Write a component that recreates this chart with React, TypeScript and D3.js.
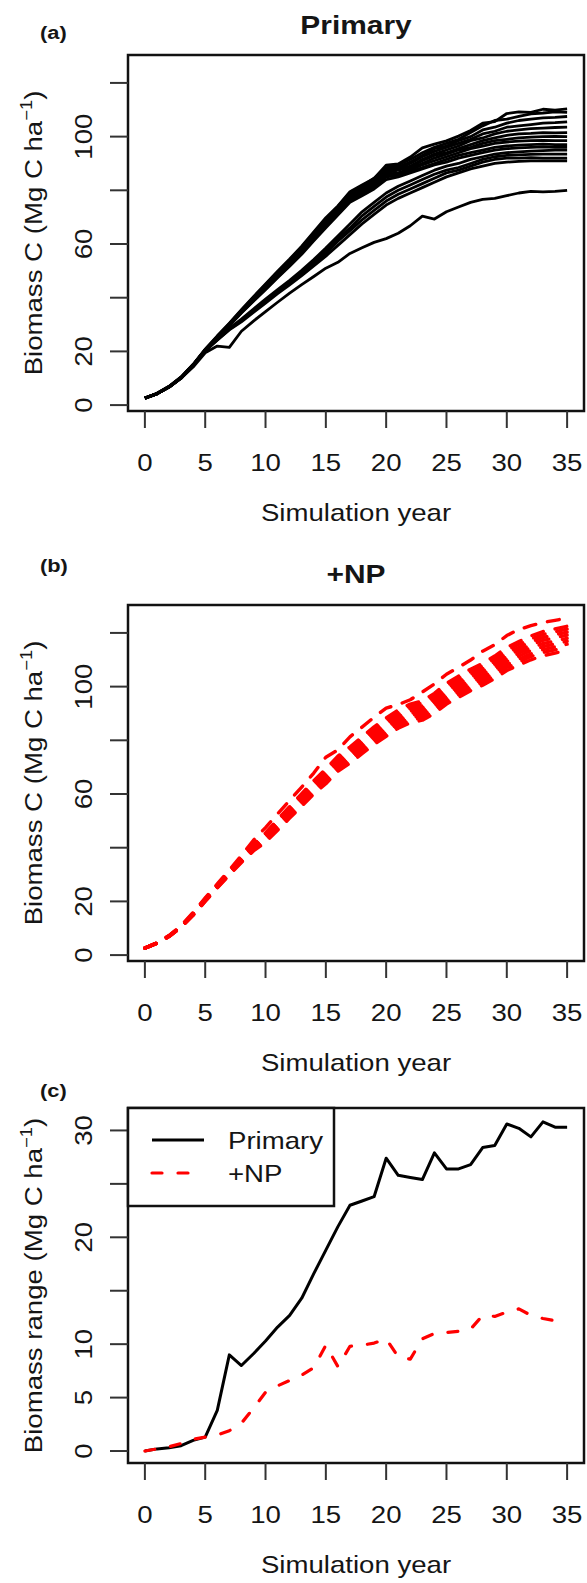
import React from 'react';
import * as d3 from 'd3';

// simulation years on the x axis
const years = d3.range(0, 36);
const xTicks = [0, 5, 10, 15, 20, 25, 30, 35];
const biomassTicks = [0, 20, 40, 60, 80, 100, 120];
const biomassLabels = [0, 20, 60, 100];
const rangeTicks = [0, 5, 10, 15, 20, 25, 30];
const rangeLabels = [0, 5, 10, 20, 30];
const legendLabels = ['Primary', '+NP'];

// (a) Primary runs, biomass C (Mg C ha-1) per year
const primaryRun01 = [2.6, 4.4, 7.0, 10.5, 15.2, 20.8, 25.8, 30.5, 35.5, 40.4, 45.1, 49.9, 54.4, 59.2, 64.5, 69.8, 74.2, 79.5, 82.0, 84.4, 89.4, 89.8, 92.4, 95.8, 97.2, 98.4, 100.2, 102.3, 105.0, 105.6, 108.6, 109.2, 109.0, 110.2, 109.9, 110.3];
const primaryRun02 = [2.6, 4.3, 6.9, 10.4, 15.1, 20.7, 25.5, 30.3, 35.3, 40.1, 44.8, 49.5, 54.0, 58.8, 64.0, 69.3, 74.0, 79.0, 81.5, 84.5, 88.5, 89.5, 91.5, 94.0, 96.0, 97.5, 99.0, 101.5, 104.0, 106.0, 106.5, 107.5, 108.5, 108.8, 109.2, 109.0];
const primaryRun03 = [2.6, 4.3, 6.9, 10.3, 15.0, 20.6, 25.4, 30.2, 35.2, 40.0, 44.6, 49.3, 53.8, 58.5, 63.6, 69.0, 73.6, 78.5, 81.2, 83.8, 88.0, 88.8, 90.5, 93.0, 95.5, 96.5, 98.5, 100.0, 102.5, 103.5, 105.0, 106.0, 106.5, 107.0, 107.2, 107.5];
const primaryRun04 = [2.6, 4.3, 6.8, 10.3, 15.0, 20.6, 25.3, 30.1, 35.1, 39.8, 44.4, 49.0, 53.5, 58.2, 63.2, 68.6, 73.2, 78.5, 80.5, 83.0, 87.5, 88.0, 90.0, 92.5, 94.5, 96.0, 97.5, 99.0, 101.0, 102.0, 103.5, 104.0, 104.5, 105.0, 105.2, 105.5];
const primaryRun05 = [2.6, 4.3, 6.8, 10.2, 14.9, 20.5, 25.2, 30.0, 35.0, 39.6, 44.2, 48.8, 53.2, 57.9, 62.9, 68.2, 72.8, 78.0, 80.5, 83.2, 87.0, 87.8, 89.0, 91.5, 93.5, 95.0, 96.5, 98.5, 99.5, 101.0, 102.0, 102.5, 103.0, 103.2, 103.4, 103.5];
const primaryRun06 = [2.6, 4.3, 6.8, 10.2, 14.9, 20.5, 25.2, 29.9, 34.9, 39.5, 44.0, 48.5, 53.0, 57.6, 62.6, 67.8, 72.5, 77.5, 79.8, 82.5, 86.5, 87.5, 88.5, 91.0, 93.0, 94.0, 95.5, 97.0, 98.5, 99.5, 100.5, 101.0, 101.2, 101.5, 101.4, 101.5];
const primaryRun07 = [2.6, 4.2, 6.8, 10.2, 14.9, 20.5, 25.1, 29.8, 34.8, 39.3, 43.8, 48.3, 52.7, 57.3, 62.3, 67.4, 72.0, 77.0, 79.5, 82.0, 86.0, 86.5, 88.0, 90.0, 92.0, 93.5, 95.0, 96.0, 97.5, 98.5, 99.0, 99.5, 99.8, 100.0, 100.1, 100.0];
const primaryRun08 = [2.6, 4.2, 6.7, 10.1, 14.8, 20.4, 25.0, 29.7, 34.6, 39.1, 43.5, 48.0, 52.4, 57.0, 62.0, 67.0, 71.6, 76.5, 79.0, 81.5, 85.5, 86.0, 87.5, 89.5, 91.0, 92.5, 94.0, 95.5, 96.5, 97.5, 98.0, 98.3, 98.5, 98.6, 98.5, 98.5];
const primaryRun09 = [2.6, 4.2, 6.7, 10.1, 14.8, 20.4, 24.9, 29.6, 34.5, 38.9, 43.2, 47.7, 52.0, 56.6, 61.6, 66.5, 71.2, 76.0, 78.5, 81.0, 85.0, 85.5, 87.0, 88.5, 90.0, 91.5, 93.0, 94.0, 95.0, 96.0, 96.5, 96.8, 97.0, 97.2, 97.0, 97.0];
const primaryRun10 = [2.6, 4.2, 6.7, 10.1, 14.8, 20.4, 24.9, 29.5, 34.3, 38.7, 43.0, 47.4, 51.7, 56.2, 61.2, 66.0, 70.8, 75.5, 78.0, 80.5, 84.0, 85.0, 86.5, 88.0, 89.5, 90.5, 92.0, 93.0, 94.0, 95.0, 95.5, 95.8, 96.0, 96.2, 96.0, 96.0];
const primaryRun11 = [2.6, 4.2, 6.7, 10.1, 14.8, 20.4, 24.6, 28.6, 32.0, 35.8, 39.5, 43.0, 46.5, 50.2, 54.2, 58.5, 63.0, 67.5, 72.0, 75.5, 79.0, 81.5, 83.5, 85.5, 87.5, 89.0, 90.0, 91.5, 92.5, 93.5, 94.0, 94.3, 94.6, 94.8, 95.0, 95.0];
const primaryRun12 = [2.6, 4.2, 6.7, 10.0, 14.7, 20.3, 24.4, 28.4, 31.7, 35.3, 39.0, 42.5, 45.9, 49.5, 53.5, 57.5, 62.0, 66.0, 70.5, 74.0, 77.5, 80.0, 82.0, 84.0, 86.0, 87.5, 88.5, 90.0, 91.5, 92.5, 93.0, 93.2, 93.4, 93.5, 93.5, 93.5];
const primaryRun13 = [2.6, 4.2, 6.7, 10.0, 14.7, 20.3, 24.3, 28.2, 31.4, 34.9, 38.5, 42.0, 45.4, 48.8, 52.6, 56.5, 61.0, 65.0, 69.0, 72.5, 76.0, 78.5, 80.5, 82.5, 84.5, 86.5, 87.5, 89.0, 90.5, 91.5, 92.0, 92.0, 92.2, 92.0, 92.0, 92.0];
const primaryRun14 = [2.6, 4.2, 6.6, 10.0, 14.6, 20.2, 24.2, 28.0, 31.0, 34.5, 38.0, 41.5, 44.8, 48.2, 51.8, 55.5, 59.5, 63.5, 67.5, 71.0, 74.5, 77.0, 79.0, 81.0, 83.0, 85.0, 86.5, 88.0, 89.0, 90.0, 90.5, 90.8, 91.0, 91.0, 91.0, 91.0];
const primaryRun15 = [2.6, 4.2, 6.7, 10.0, 14.2, 19.5, 22.0, 21.5, 27.5, 31.3, 34.8, 38.3, 41.7, 44.9, 47.9, 51.0, 53.2, 56.5, 58.6, 60.6, 62.0, 64.0, 66.8, 70.4, 69.3, 72.0, 73.8, 75.5, 76.6, 77.0, 78.0, 79.0, 79.6, 79.4, 79.6, 80.0];
const primaryRuns = [
  primaryRun01, primaryRun02, primaryRun03, primaryRun04, primaryRun05,
  primaryRun06, primaryRun07, primaryRun08, primaryRun09, primaryRun10,
  primaryRun11, primaryRun12, primaryRun13, primaryRun14, primaryRun15,
];

// (b) +NP runs
const npRun01 = [2.6, 4.6, 7.3, 11.0, 15.9, 21.3, 26.5, 31.7, 37.1, 42.8, 47.5, 52.6, 57.6, 62.6, 67.8, 73.7, 76.4, 81.3, 84.9, 88.6, 92.0, 93.3, 95.1, 98.0, 101.0, 104.6, 107.2, 109.9, 113.2, 115.6, 119.0, 121.3, 122.7, 123.9, 124.7, 125.5];
const npRun02 = [2.6, 4.5, 7.2, 10.8, 15.6, 21.0, 26.1, 31.2, 36.3, 41.4, 45.5, 50.5, 55.3, 60.1, 65.0, 69.3, 74.1, 77.5, 81.3, 85.0, 88.3, 91.3, 93.5, 94.7, 97.5, 101.2, 103.9, 106.5, 108.7, 111.4, 114.6, 116.8, 118.9, 120.5, 121.5, 122.5];
const npRun03 = [2.6, 4.5, 7.2, 10.7, 15.5, 20.9, 26.0, 31.0, 36.1, 41.1, 45.1, 50.0, 54.8, 59.5, 64.4, 68.6, 73.4, 76.8, 80.5, 84.2, 87.5, 90.5, 92.7, 93.8, 96.6, 100.3, 103.0, 105.5, 107.7, 110.4, 113.6, 115.7, 117.8, 119.4, 120.4, 121.4];
const npRun04 = [2.6, 4.5, 7.1, 10.7, 15.4, 20.8, 25.8, 30.9, 35.9, 40.8, 44.6, 49.5, 54.2, 59.0, 63.8, 67.9, 72.7, 76.0, 79.7, 83.4, 86.6, 89.6, 91.8, 92.9, 95.6, 99.3, 101.9, 104.5, 106.7, 109.3, 112.5, 114.6, 116.7, 118.3, 119.3, 120.3];
const npRun05 = [2.6, 4.5, 7.1, 10.6, 15.3, 20.6, 25.7, 30.7, 35.6, 40.4, 44.2, 49.0, 53.7, 58.4, 63.2, 67.3, 72.0, 75.3, 79.0, 82.6, 85.8, 88.8, 90.9, 92.0, 94.7, 98.4, 101.0, 103.5, 105.7, 108.3, 111.4, 113.5, 115.6, 117.2, 118.2, 119.2];
const npRun06 = [2.6, 4.4, 7.0, 10.5, 15.2, 20.5, 25.6, 30.5, 35.4, 40.1, 43.8, 48.5, 53.2, 57.8, 62.5, 66.6, 71.3, 74.5, 78.2, 81.8, 84.9, 87.9, 90.0, 91.1, 93.8, 97.4, 100.0, 102.5, 104.6, 107.2, 110.3, 112.4, 114.5, 116.0, 117.0, 118.0];
const npRun07 = [2.6, 4.4, 7.0, 10.5, 15.1, 20.4, 25.4, 30.3, 35.2, 39.8, 43.3, 48.0, 52.6, 57.3, 61.9, 65.9, 70.6, 73.8, 77.4, 81.0, 84.1, 87.1, 89.2, 90.2, 92.9, 96.4, 99.0, 101.5, 103.6, 106.2, 109.3, 111.3, 113.4, 114.9, 115.9, 116.9];
const npRun08 = [2.6, 4.4, 7.0, 10.4, 15.0, 20.3, 25.3, 30.2, 35.0, 39.5, 42.9, 47.5, 52.1, 56.7, 61.3, 65.2, 69.9, 73.0, 76.6, 80.1, 83.2, 86.2, 88.3, 89.3, 91.9, 95.4, 98.0, 100.5, 102.6, 105.1, 108.2, 110.2, 112.2, 113.8, 114.8, 115.8];
const npRun09 = [2.6, 4.4, 6.9, 10.4, 14.9, 20.1, 25.1, 30.0, 34.7, 39.1, 42.5, 47.0, 51.6, 56.1, 60.7, 64.5, 69.2, 72.3, 75.8, 79.4, 82.4, 85.4, 87.4, 88.4, 91.0, 94.5, 97.0, 99.5, 101.6, 104.1, 107.1, 109.1, 111.2, 112.7, 113.7, 114.7];
const npRun10 = [2.6, 4.4, 6.9, 10.3, 14.8, 20.0, 25.0, 29.8, 34.5, 38.8, 42.0, 46.5, 51.0, 55.5, 60.0, 63.8, 68.5, 71.5, 75.0, 78.5, 81.5, 84.5, 86.5, 87.5, 90.0, 93.5, 96.0, 98.5, 100.5, 103.0, 106.0, 108.0, 110.0, 111.5, 112.5, 113.5];
const npRuns = [npRun01, npRun02, npRun03, npRun04, npRun05, npRun06, npRun07, npRun08, npRun09, npRun10];

// (c) biomass range across runs
const rangePrimary = [0, 0.2, 0.3, 0.5, 1.0, 1.3, 3.8, 9.0, 8.0, 9.1, 10.3, 11.6, 12.7, 14.3, 16.6, 18.8, 21.0, 23.0, 23.4, 23.8, 27.4, 25.8, 25.6, 25.4, 27.9, 26.4, 26.4, 26.8, 28.4, 28.6, 30.6, 30.2, 29.4, 30.8, 30.3, 30.3];
const rangeNP = [0, 0.2, 0.4, 0.7, 1.1, 1.3, 1.5, 1.9, 2.6, 4.0, 5.5, 6.1, 6.6, 7.1, 7.8, 9.9, 7.9, 9.8, 9.9, 10.1, 10.5, 8.8, 8.6, 10.5, 11.0, 11.1, 11.2, 11.4, 12.7, 12.6, 13.0, 13.3, 12.7, 12.4, 12.2, 12.0];

const W = 587;
const H = 1583;
const FONT = '"Liberation Sans", Arial, Helvetica, sans-serif';
const STRETCH = 1.15; // glyphs in the source are a bit wider than Arial

const x = d3.scaleLinear().domain([-1.4, 36.4]).range([128, 584]);

const Label = ({ x, y, size, bold = false, anchor = 'middle', rotate = 0, children }: any) => (
  <text
    transform={`translate(${x},${y}) rotate(${rotate}) scale(${STRETCH},1)`}
    fontSize={size}
    fontWeight={bold ? 'bold' : 'normal'}
    textAnchor={anchor}
    fontFamily={FONT}
    fill="#151515"
  >
    {children}
  </text>
);

const Frame = ({ y, top, bottom, ticks, labels, yTitle }: any) => {
  const midY = (top + bottom) / 2;
  return (
    <g>
      <rect x={128} y={top} width={456} height={bottom - top} fill="none" stroke="#111" strokeWidth={2.5} />
      {ticks.map((t: number) => (
        <line key={'y' + t} x1={110} x2={128} y1={y(t)} y2={y(t)} stroke="#333" strokeWidth={2} />
      ))}
      {labels.map((t: number) => (
        <Label key={'yl' + t} x={92} y={y(t)} size={24} rotate={-90}>{t}</Label>
      ))}
      {xTicks.map((t) => (
        <line key={'x' + t} x1={x(t)} x2={x(t)} y1={bottom} y2={bottom + 17} stroke="#333" strokeWidth={2} />
      ))}
      {xTicks.map((t) => (
        <Label key={'xl' + t} x={x(t)} y={bottom + 60} size={24}>{t}</Label>
      ))}
      <Label x={356} y={bottom + 110} size={24}>Simulation year</Label>
      <Label x={41.5} y={midY} size={24} rotate={-90}>
        {yTitle}
        <tspan dy={-10} fontSize={16}>−1</tspan>
        <tspan dy={10}>)</tspan>
      </Label>
    </g>
  );
};

const App = () => {
  const ya = d3.scaleLinear().domain([-2.2, 130.4]).range([411, 55]);
  const yb = d3.scaleLinear().domain([-2.2, 130.4]).range([961, 605]);
  const yc = d3.scaleLinear().domain([-1.12, 32.1]).range([1463, 1108]);

  const lineA = d3.line<number>().x((_, i) => x(years[i])).y((d) => ya(d));
  const lineB = d3.line<number>().x((_, i) => x(years[i])).y((d) => yb(d));
  const lineC = d3.line<number>().x((_, i) => x(years[i])).y((d) => yc(d));

  return (
    <svg width={W} height={H} style={{ position: 'absolute', left: 0, top: 0, display: 'block', background: '#fff' }}>
      <rect width={W} height={H} fill="#fff" />

      {/* (a) Primary */}
      <Label x={40} y={39} size={19} bold anchor="start">(a)</Label>
      <Label x={356} y={34} size={26} bold>Primary</Label>
      {primaryRuns.map((run, i) => (
        <path key={'a' + i} d={lineA(run) || ''} fill="none" stroke="#000" strokeWidth={2.8} strokeLinejoin="round" />
      ))}
      <Frame y={ya} top={55} bottom={411} ticks={biomassTicks} labels={biomassLabels} yTitle="Biomass C (Mg C ha" />

      {/* (b) +NP */}
      <Label x={40} y={572} size={19} bold anchor="start">(b)</Label>
      <Label x={356} y={583} size={26} bold>+NP</Label>
      {npRuns.map((run, i) => (
        <path key={'b' + i} d={lineB(run) || ''} fill="none" stroke="#ff0000" strokeWidth={3.4}
          strokeDasharray="12 12" strokeLinecap="round" strokeLinejoin="round" />
      ))}
      <Frame y={yb} top={605} bottom={961} ticks={biomassTicks} labels={biomassLabels} yTitle="Biomass C (Mg C ha" />

      {/* (c) range */}
      <Label x={40} y={1097} size={19} bold anchor="start">(c)</Label>
      <path d={lineC(rangePrimary) || ''} fill="none" stroke="#000" strokeWidth={3} strokeLinejoin="round" />
      <path d={lineC(rangeNP) || ''} fill="none" stroke="#ff0000" strokeWidth={3.2}
        strokeDasharray="10 16" strokeLinecap="round" strokeLinejoin="round" />
      <Frame y={yc} top={1108} bottom={1463} ticks={rangeTicks} labels={rangeLabels} yTitle="Biomass range (Mg C ha" />

      {/* legend */}
      <rect x={128} y={1108} width={206} height={98} fill="#fff" stroke="#111" strokeWidth={2.5} />
      <line x1={152} x2={204} y1={1140} y2={1140} stroke="#000" strokeWidth={3} />
      <line x1={152} x2={204} y1={1173} y2={1173} stroke="#ff0000" strokeWidth={3.2} strokeDasharray="10 16" strokeLinecap="round" />
      <Label x={228} y={1149} size={24} anchor="start">{legendLabels[0]}</Label>
      <Label x={228} y={1182} size={24} anchor="start">{legendLabels[1]}</Label>
    </svg>
  );
};

export default App;
